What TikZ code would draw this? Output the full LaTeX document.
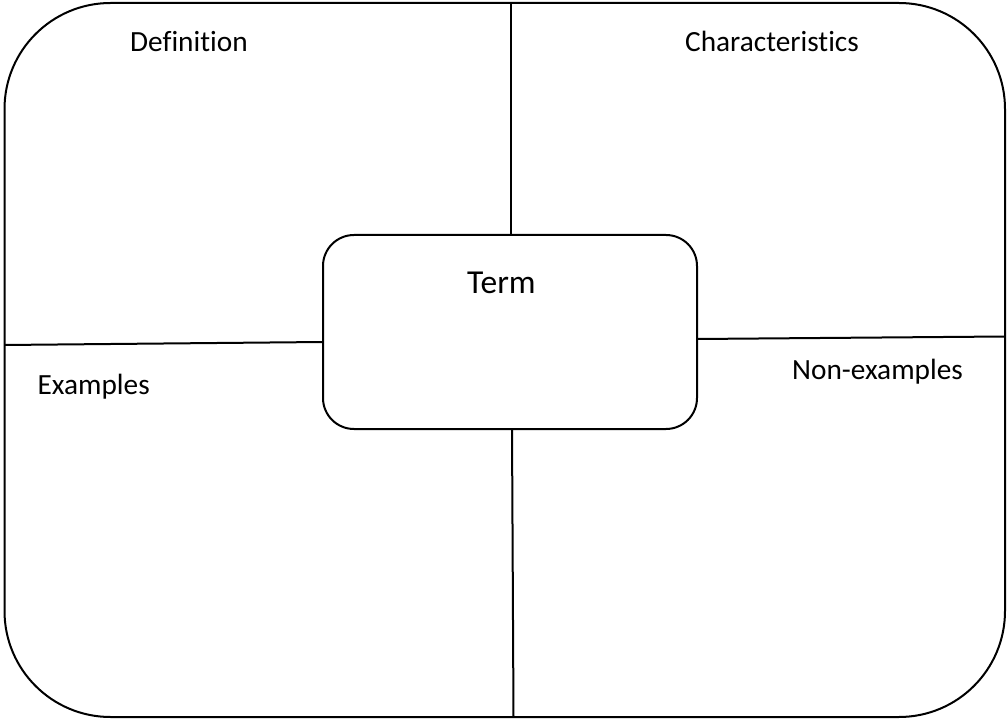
\documentclass[tikz,border=0pt]{standalone}
\usepackage{fontspec}
\setmainfont[Ligatures=NoCommon]{Carlito}
\tikzset{
  frame/.style={draw=black, line width=2pt, rectangle, inner sep=0pt},
  divider/.style={draw=black, line width=2pt},
  label/.style={anchor=base west, inner sep=0pt, font=\fontsize{29.3}{34}\selectfont},
}
\begin{document}
\begin{tikzpicture}[x=1pt,y=-1pt]
\useasboundingbox (0,0) rectangle (1007,719);
\node[frame, rounded corners=106pt, minimum width=1000.5pt, minimum height=714pt] (outer) at (504.75,360) {};
\node[frame, rounded corners=31pt, minimum width=374pt, minimum height=194pt] (term) at (510,332) {};
\coordinate (ttop) at (510.5,3);
\coordinate (tbot) at (510.5,235);
\coordinate (btop) at (512,429);
\coordinate (bbot) at (513.5,717);
\coordinate (lleft) at (4.5,345);
\coordinate (lright) at (323,342);
\coordinate (rleft) at (697,339);
\coordinate (rright) at (1005,336.5);
\draw[divider] (ttop) -- (tbot);
\draw[divider] (btop) -- (bbot);
\draw[divider] (lleft) -- (lright);
\draw[divider] (rleft) -- (rright);
\node[label] (def) at (130,52) {Definition};
\node[label] (char) at (685,52) {Characteristics};
\node[label] (ex) at (37.5,395) {Examples};
\node[label] (nonex) at (792,380) {Non-examples};
\node[anchor=base west, inner sep=0pt, font=\fontsize{33.5}{38}\selectfont] (termtxt) at (467,294) {Term};
\end{tikzpicture}
\end{document}
